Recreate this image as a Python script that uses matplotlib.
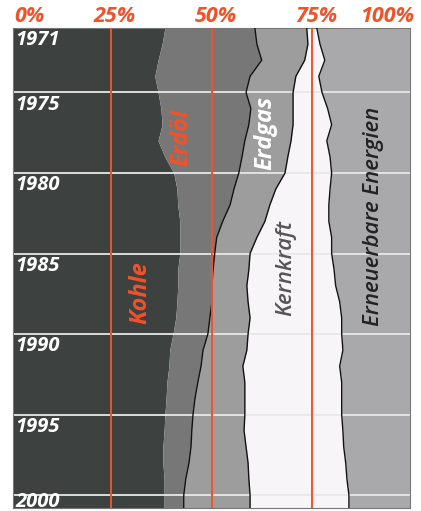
import numpy as np
import matplotlib
matplotlib.use("Agg")
import matplotlib.pyplot as plt
from matplotlib.transforms import blended_transform_factory


# ---------------------------------------------------------------------
# Data: share of each source in percent, per year
# ---------------------------------------------------------------------

years = list(range(1971, 2001))

kohle = [38.4, 37.7, 36.7, 35.9, 36.7, 37.4, 37.7, 36.7, 38.4, 40.6,
         41.4, 41.6, 42.1, 42.1, 42.1, 41.6, 41.6, 41.4, 41.1, 40.4,
         39.6, 39.4, 38.9, 38.7, 38.4, 38.2, 37.9, 37.9, 38.2, 38.2]

erdoel = [22.4, 23.6, 25.8, 23.7, 21.9, 22.4, 21.6, 21.6, 19.2, 16.2,
          14.2, 13.0, 10.7, 9.2, 8.7, 8.8, 8.5, 8.7, 8.5, 8.7,
          8.3, 8.0, 7.7, 7.2, 7.0, 6.9, 7.0, 6.5, 5.4, 4.9]

erdgas = [12.9, 12.7, 10.7, 11.4, 11.7, 10.5, 11.0, 11.5, 11.4, 11.5,
          10.4, 9.9, 10.5, 10.0, 8.8, 8.9, 8.7, 9.0, 10.0, 10.0,
          10.9, 10.4, 11.7, 12.4, 12.9, 13.0, 13.7, 14.7, 15.7, 16.5]

kernkraft = [2.5, 3.0, 5.0, 5.7, 7.2, 8.6, 9.6, 8.9, 10.5, 11.6,
             13.5, 14.7, 15.9, 18.6, 20.3, 21.2, 22.1, 22.8, 22.8, 23.3,
             23.9, 24.1, 24.1, 24.1, 24.1, 24.6, 24.3, 24.3, 24.4, 24.6]

erneuerbare = [23.8, 23.0, 21.8, 23.3, 22.5, 21.1, 20.1, 21.3, 20.5, 20.1,
               20.5, 20.8, 20.8, 20.1, 20.1, 19.5, 19.1, 18.1, 17.6, 17.6,
               17.3, 18.1, 17.6, 17.6, 17.6, 17.3, 17.1, 16.6, 16.3, 15.8]

grid_years = [1971, 1975, 1980, 1985, 1990, 1995, 2000]
pct_ticks = [0, 25, 50, 75, 100]

# ---------------------------------------------------------------------
# Style
# ---------------------------------------------------------------------

RED = "#f2522a"
FONT = ["Open Sans", "DejaVu Sans"]
Y_BOTTOM = 2000.8

bands = [
    ("Kohle", kohle, "#3d4140"),
    ("Erdöl", erdoel, "#777777"),
    ("Erdgas", erdgas, "#9d9d9d"),
    ("Kernkraft", kernkraft, "#f7f5f7"),
    ("Erneuerbare Energien", erneuerbare, "#a9a9ab"),
]

fig = plt.figure(figsize=(4.21, 5.11), dpi=100)
ax = fig.add_axes([13 / 421, 3 / 511, 397 / 421, 480 / 511])

# the chart runs a little past the last year: hold the last row to the edge
y = np.append(np.array(years, dtype=float), Y_BOTTOM)
left = np.zeros(len(y))
for i, (name, vals, color) in enumerate(bands):
    v = np.array(vals)
    right = left + np.append(v, v[-1])
    if i == len(bands) - 1:
        right = np.full(len(y), 100.0)
    ax.fill_betweenx(y, left, right, color=color, lw=0, zorder=1)
    if i >= 2:
        ax.plot(left, y, color="#111111", lw=1.0, zorder=3)
    left = right

for yr in grid_years:
    ax.axhline(yr, color="#e8e8e8", lw=1.3, zorder=2)

for p in [25, 50, 75]:
    ax.axvline(p, color=RED, lw=1.4, zorder=4)

ax.set_xlim(0.6, 99.4)
ax.set_ylim(Y_BOTTOM, 1971)
ax.set_xticks([])
ax.set_yticks([])
for s in ax.spines.values():
    s.set_color("#777777")
    s.set_linewidth(0.8)

# year labels
for yr in grid_years:
    off = 0.45 if yr == 2000 else 0.75
    ax.text(1.1, yr + off, str(yr), color="white", fontsize=14.5,
            fontweight="bold", fontstyle="italic", family=FONT,
            va="center", ha="left", zorder=5)

# percent labels above the plot
trans = blended_transform_factory(ax.transData, fig.transFigure)
for p in pct_ticks:
    if p == 0:
        xp, ha = 1.0, "left"
    elif p == 100:
        xp, ha = 100.3, "right"
    else:
        xp, ha = p + 1.0, "center"
    ax.text(xp, 1 - 16 / 511, f"{p}%", transform=trans, color=RED,
            fontsize=15.5, fontweight="bold", fontstyle="italic",
            family=FONT, ha=ha, va="center", clip_on=False)


# band labels
def band_label(x, yr, text, color, size=17, weight="bold"):
    ax.text(x, yr, text, rotation=90, color=color, fontsize=size,
            fontweight=weight, fontstyle="italic", family=FONT,
            ha="center", va="center", zorder=5)


band_label(32.2, 1987.4, "Kohle", RED)
band_label(42.4, 1977.8, "Erdöl", RED)
band_label(63.5, 1977.5, "Erdgas", "white")
band_label(68.5, 1985.9, "Kernkraft", "#555555", size=16, weight="semibold")
band_label(90.2, 1982.7, "Erneuerbare Energien", "#222222", size=16,
           weight="semibold")

fig.savefig("out.png", dpi=100)
